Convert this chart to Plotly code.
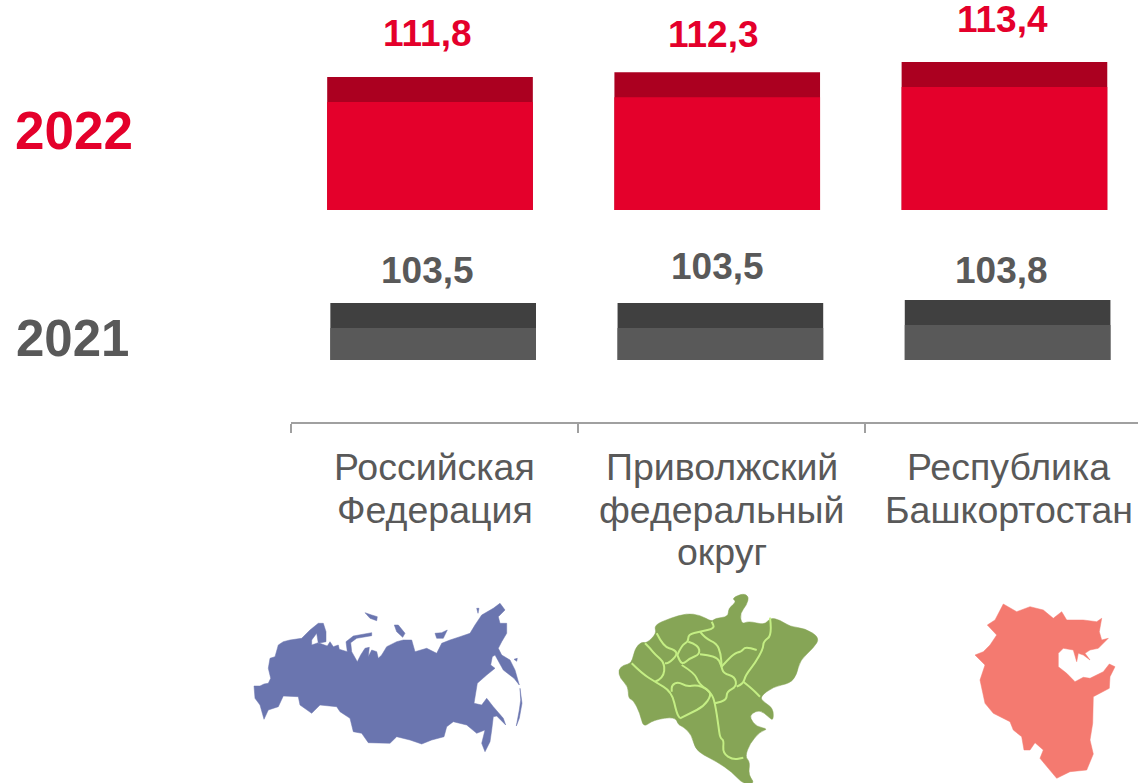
import plotly.graph_objects as go

W, H = 1138, 783

# ---- data ----
regions = [["Российская", "Федерация"], ["Приволжский", "федеральный", "округ"], ["Республика", "Башкортостан"]]
values_2022 = [111.8, 112.3, 113.4]
values_2021 = [103.5, 103.5, 103.8]
year_labels = ["2022", "2021"]

# ---- style ----
RED, RED_DARK = "#E4002B", "#AB0020"
GREY, GREY_DARK = "#595959", "#404040"
AXIS = "#A0A0A0"
FONT = "Liberation Sans, Arial, sans-serif"
CAP_2022, CAP_2021 = 2.66, 2.5
BAR_W = 0.716
OFF_2022, OFF_2021 = -BAR_W / 2 - 0.016, -BAR_W / 2 - 0.005
cats = [0, 1, 2]

russia = [(42,288),(60,288),(72,282),(85,280),(92,265),(85,235),(90,205),(105,200),(115,165),(130,155),(150,150),(185,145),(210,120),(235,100),(250,100),(258,125),(258,155),(235,160),(230,130),(215,150),(215,165),(235,158),(262,168),(270,155),(280,170),(295,165),(298,178),(322,185),(318,155),(340,138),(395,128),(395,137),(350,145),(332,158),(335,185),(352,215),(362,195),(375,175),(388,172),(385,200),(395,180),(410,185),(415,205),(425,195),(440,170),(470,155),(490,150),(515,150),(525,185),(560,175),(590,190),(605,160),(630,150),(660,140),(690,130),(705,105),(725,75),(760,55),(780,40),(795,60),(775,80),(780,100),(800,100),(800,130),(785,155),(775,175),(785,195),(810,210),(825,240),(838,285),(822,265),(790,240),(765,195),(757,200),(752,225),(765,235),(740,255),(712,280),(702,340),(725,345),(740,325),(760,350),(790,385),(797,405),(770,378),(760,380),(755,420),(750,455),(735,485),(725,460),(735,420),(710,430),(680,405),(640,395),(620,410),(612,440),(575,450),(545,462),(510,450),(470,440),(450,460),(385,458),(365,430),(340,425),(330,385),(300,365),(290,350),(240,345),(215,370),(180,345),(175,320),(130,318),(115,350),(85,360),(72,388),(60,345),(45,325)]
russia_islands = [
    [(375,68),(395,75),(412,80),(410,92),(390,85)],
    [(463,105),(475,105),(495,130),(488,142),(470,125)],
    [(585,130),(605,128),(622,120),(610,145),(590,145)],
    [(710,55),(717,55),(714,70)],
    [(840,295),(846,340),(838,385),(829,408),(838,360),(842,330)],
    [(822,208),(832,205),(830,214)],
]
volga = [(55,255),(70,240),(95,235),(105,190),(125,170),(140,175),(170,145),(162,120),(210,100),(260,85),(300,90),(335,110),(345,100),(385,95),(385,70),(410,50),(395,40),(430,25),(447,35),(440,60),(420,85),(425,118),(445,108),(495,120),(510,98),(540,105),(570,125),(615,130),(660,158),(640,190),(600,225),(590,270),(570,295),(520,305),(480,335),(490,350),(520,370),(520,408),(505,395),(480,375),(455,385),(450,400),(470,425),(505,432),(480,440),(450,475),(435,515),(450,530),(445,570),(465,595),(430,598),(395,560),(350,530),(310,510),(285,490),(275,450),(250,425),(235,420),(225,395),(160,405),(130,428),(120,385),(100,345),(85,340),(85,305),(60,280)]
volga_borders = [
    [(95,235),(125,265),(165,290),(215,320),(230,385),(240,400)],
    [(240,400),(270,385),(310,365),(335,330),(320,310),(290,300),(260,305),(235,290),(215,300),(215,320)],
    [(165,290),(190,280),(195,235),(165,208),(150,190),(135,175)],
    [(170,145),(190,185),(225,195),(232,210),(205,235),(195,235)],
    [(232,210),(245,180),(265,170),(265,148),(300,140),(345,130),(335,110)],
    [(265,170),(295,180),(300,208),(270,220),(245,240),(232,210)],
    [(245,240),(285,265),(295,295),(335,325),(345,355),(355,420),(360,460),(372,465),(368,505),(400,525),(430,518)],
    [(300,208),(350,212),(365,245),(370,265),(405,275),(410,305),(380,320),(380,345),(345,355)],
    [(300,140),(315,160),(350,175),(362,205),(365,245)],
    [(365,245),(400,205),(425,200),(435,185),(470,195)],
    [(510,98),(517,150),(490,170),(490,190),(465,235),(437,270),(430,295),(410,305)],
    [(430,290),(455,310),(480,335)],
]
bashkir = [(75,195),(100,185),(120,165),(140,135),(112,105),(135,90),(160,42),(200,65),(240,50),(280,60),(310,85),(335,65),(350,90),(400,90),(440,95),(455,85),(448,125),(455,150),(475,145),(445,175),(420,180),(405,190),(420,210),(400,195),(385,190),(380,215),(370,180),(340,175),(325,190),(325,230),(350,250),(375,275),(400,262),(420,265),(460,245),(478,222),(495,230),(480,260),(478,295),(430,320),(428,400),(420,450),(430,492),(410,540),(360,545),(320,565),(295,535),(270,505),(280,480),(255,458),(240,480),(222,480),(215,440),(190,420),(180,395),(130,370),(105,340),(90,270),(105,225)]


def to_px(pts, origin):
    return [(origin[0] + x / 3, origin[1] + y / 3) for x, y in pts]


def path(pts, origin):
    return "M" + " L".join(f"{x:.1f},{y:.1f}" for x, y in to_px(pts, origin)) + " Z"


def smooth_closed(pts, origin):
    p = to_px(pts, origin)
    n = len(p)
    mid = [((p[i][0] + p[(i + 1) % n][0]) / 2, (p[i][1] + p[(i + 1) % n][1]) / 2) for i in range(n)]
    s = f"M{mid[-1][0]:.1f},{mid[-1][1]:.1f}"
    for i in range(n):
        s += f" Q{p[i][0]:.1f},{p[i][1]:.1f} {mid[i][0]:.1f},{mid[i][1]:.1f}"
    return s + " Z"


def smooth_open(pts, origin):
    p = to_px(pts, origin)
    s = f"M{p[0][0]:.1f},{p[0][1]:.1f}"
    for i in range(1, len(p) - 1):
        mx, my = (p[i][0] + p[i + 1][0]) / 2, (p[i][1] + p[i + 1][1]) / 2
        s += f" Q{p[i][0]:.1f},{p[i][1]:.1f} {mx:.1f},{my:.1f}"
    return s + f" L{p[-1][0]:.1f},{p[-1][1]:.1f}"


def fill_shape(d, color):
    return dict(type="path", xref="x", yref="y", path=d, fillcolor=color,
                line=dict(color=color, width=0.5), layer="above")


shapes = []
for poly in [russia] + russia_islands:
    shapes.append(fill_shape(path(poly, (240, 590)), "#6A75AF"))
shapes.append(fill_shape(smooth_closed(volga, (600, 585)), "#86A556"))
for b in volga_borders:
    shapes.append(dict(type="path", xref="x", yref="y", path=smooth_open(b, (600, 585)),
                       line=dict(color="#C4EE84", width=2), layer="above"))
shapes.append(fill_shape(path(bashkir, (950, 590)), "#F47A70"))


def comma(v):
    return f"{v:.1f}".replace(".", ",")


fig = go.Figure()
# empty trace keeps the full-window overlay axes alive
fig.add_trace(go.Scatter(x=[None], y=[None], xaxis="x", yaxis="y", showlegend=False))

for vals, cap, off, dark, light, ya in [
    (values_2022, CAP_2022, OFF_2022, RED_DARK, RED, "y2"),
    (values_2021, CAP_2021, OFF_2021, GREY_DARK, GREY, "y3"),
]:
    fig.add_trace(go.Bar(x=cats, y=vals, xaxis="x2", yaxis=ya, width=BAR_W, offset=off,
                         marker=dict(color=dark, line=dict(width=0)), showlegend=False))
    fig.add_trace(go.Bar(x=cats, y=[v - cap for v in vals], xaxis="x2", yaxis=ya, width=BAR_W, offset=off,
                         marker=dict(color=light, line=dict(width=0)), showlegend=False))

annots = []
for v, px, py in zip(values_2022, [427, 713.5, 1002], [33, 34, 19]):
    annots.append(dict(text=f"<b>{comma(v)}</b>", x=px, y=py, font=dict(size=37, color=RED)))
for v, px, py in zip(values_2021, [427.5, 717, 1001.5], [270, 266, 270]):
    annots.append(dict(text=f"<b>{comma(v)}</b>", x=px, y=py, font=dict(size=37, color=GREY)))
annots.append(dict(text=f"<b>{year_labels[0]}</b>", x=74, y=130, font=dict(size=53, color=RED)))
annots.append(dict(text=f"<b>{year_labels[1]}</b>", x=72, y=338, font=dict(size=51, color=GREY)))
for a in annots:
    a.update(xref="x", yref="y", showarrow=False, xanchor="center", yanchor="middle")
for i, lines in enumerate(regions):
    for line, py in zip(lines, [467, 510, 552]):
        annots.append(dict(text=line, x=i, y=py, xref="x2", yref="y", showarrow=False,
                           xanchor="center", yanchor="middle", xshift=[0, 0, -0.5][i],
                           font=dict(size=37.5, color=GREY)))

axis_y = 1 - 423 / H
fig.update_layout(
    width=W, height=H, margin=dict(l=0, r=0, t=0, b=0),
    paper_bgcolor="white", plot_bgcolor="white",
    font=dict(family=FONT, color=GREY), barmode="overlay",
    hovermode=False, showlegend=False, shapes=shapes, annotations=annots,
    xaxis=dict(range=[0, W], domain=[0, 1], visible=False, fixedrange=True),
    yaxis=dict(range=[H, 0], domain=[0, 1], visible=False, fixedrange=True),
    xaxis2=dict(domain=[291 / W, 1], range=[-0.5, 2.449], anchor="free", position=axis_y,
                showgrid=False, zeroline=False, showline=True, linecolor=AXIS, linewidth=2,
                tickmode="array", tickvals=[-0.5, 0.5, 1.5], ticktext=["", "", ""],
                ticks="outside", ticklen=9, tickwidth=1.5, tickcolor=AXIS, fixedrange=True),
    yaxis2=dict(domain=[1 - 210 / H, 1 - 40 / H], range=[97.65, 97.65 + 170 / 9.4], anchor="free",
                position=0, visible=False, fixedrange=True),
    yaxis3=dict(domain=[1 - 360 / H, 1 - 290 / H], range=[97.8, 104.8], anchor="free",
                position=0, visible=False, fixedrange=True),
)

fig.write_html("out.html", config=dict(displayModeBar=False),
               post_script="document.body.style.margin='0';document.body.style.overflow='hidden';")
